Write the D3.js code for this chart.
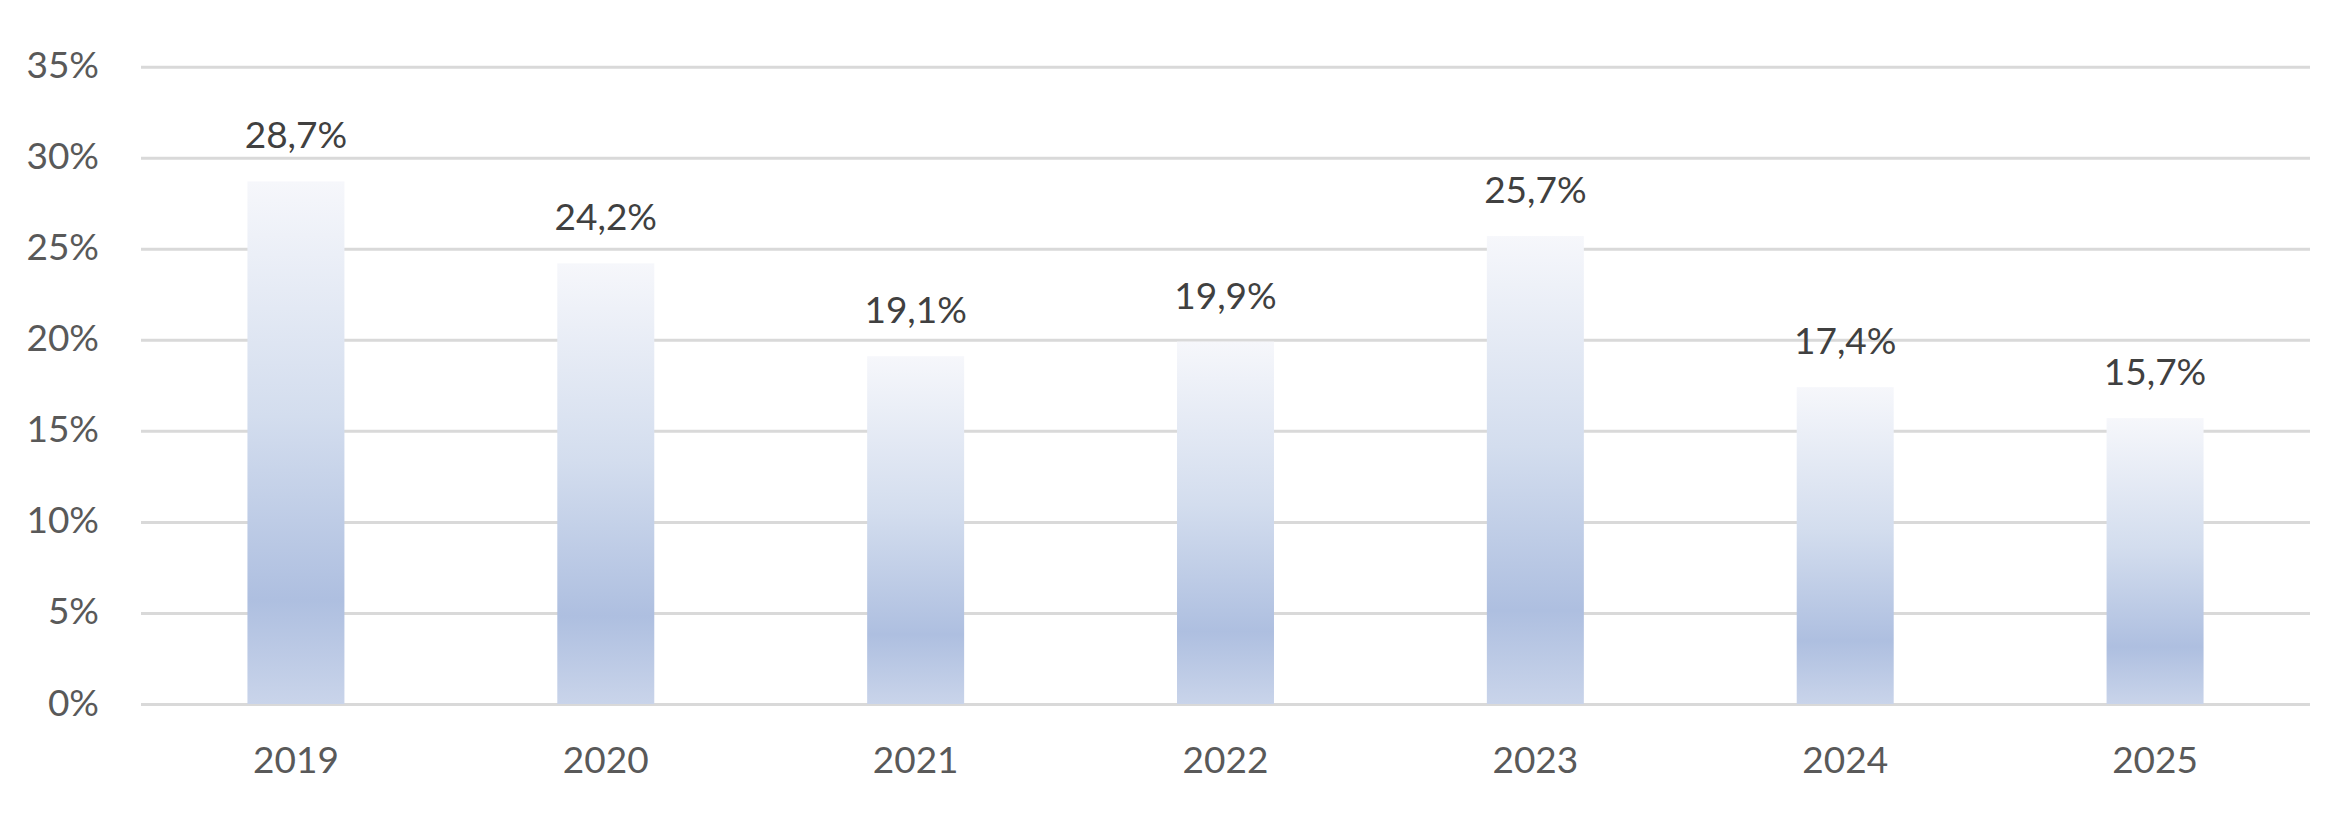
<!DOCTYPE html>
<html>
<head>
<meta charset="utf-8">
<script src="https://cdn.jsdelivr.net/npm/d3@7"></script>
<style>
  html, body { margin: 0; padding: 0; background: #ffffff; }
  svg { display: block; }
</style>
</head>
<body>
<svg id="chart" width="2350" height="816"></svg>
<script>
const years = ["2019", "2020", "2021", "2022", "2023", "2024", "2025"];
const values = [0.287, 0.242, 0.191, 0.199, 0.257, 0.174, 0.157];
const yTicks = [0, 0.05, 0.10, 0.15, 0.20, 0.25, 0.30, 0.35];

(function () {
const svg = d3.select("#chart");
const mLeft = 141, mRight = 2310, mTop = 66.7, mBottom = 704;

const locale = d3.formatLocale({ decimal: ",", thousands: ".", grouping: [3], currency: ["", "€"] });
const fmtVal = locale.format(".1%");
const fmtTick = locale.format(".0%");

const x = d3.scaleBand().domain(years).range([mLeft, mRight]).paddingInner(0.687).paddingOuter(0.3435);
const y = d3.scaleLinear().domain([0, 0.35]).range([mBottom, mTop]);

const defs = svg.append("defs");
const grad = defs.append("linearGradient").attr("id", "barGrad")
  .attr("x1", 0).attr("y1", 0).attr("x2", 0).attr("y2", 1);
grad.append("stop").attr("offset", "0%").attr("stop-color", "#f6f7fb");
grad.append("stop").attr("offset", "45%").attr("stop-color", "#d3ddee");
grad.append("stop").attr("offset", "80%").attr("stop-color", "#aebfe0");
grad.append("stop").attr("offset", "100%").attr("stop-color", "#c9d4ea");

const font = "Lato, 'Noto Sans', sans-serif";

// gridlines + y tick labels
const yAxis = d3.axisLeft(y).tickValues(yTicks).tickSize(-(mRight - mLeft)).tickFormat(fmtTick).tickPadding(42);
const gAxis = svg.append("g").attr("transform", `translate(${mLeft},0)`).call(yAxis);
gAxis.select(".domain").remove();
gAxis.selectAll(".tick line").attr("stroke", "#d9d9d9").attr("stroke-width", 3);
gAxis.selectAll(".tick text")
  .attr("fill", "#595959").attr("font-family", font).attr("font-size", 37)
  .attr("dy", null).attr("y", 11).attr("dominant-baseline", "alphabetic");

// bars
svg.append("g").selectAll("rect").data(values).join("rect")
  .attr("x", (d, i) => x(years[i]))
  .attr("width", x.bandwidth())
  .attr("y", d => y(d))
  .attr("height", d => y(0) - y(d))
  .attr("fill", "url(#barGrad)");

// value labels
svg.append("g").selectAll("text").data(values).join("text")
  .attr("x", (d, i) => x(years[i]) + x.bandwidth() / 2)
  .attr("y", d => y(d) - 33)
  .attr("text-anchor", "middle")
  .attr("fill", "#404040").attr("font-family", font).attr("font-size", 37)
  .text(d => fmtVal(d));

// x axis labels
const xAxis = d3.axisBottom(x).tickSize(0).tickPadding(0);
const gx = svg.append("g").attr("transform", `translate(0,${mBottom})`).call(xAxis);
gx.select(".domain").remove();
gx.selectAll(".tick text")
  .attr("fill", "#595959").attr("font-family", font).attr("font-size", 37)
  .attr("dy", null).attr("y", 69).attr("dominant-baseline", "alphabetic");
})();
</script>
</body>
</html>
